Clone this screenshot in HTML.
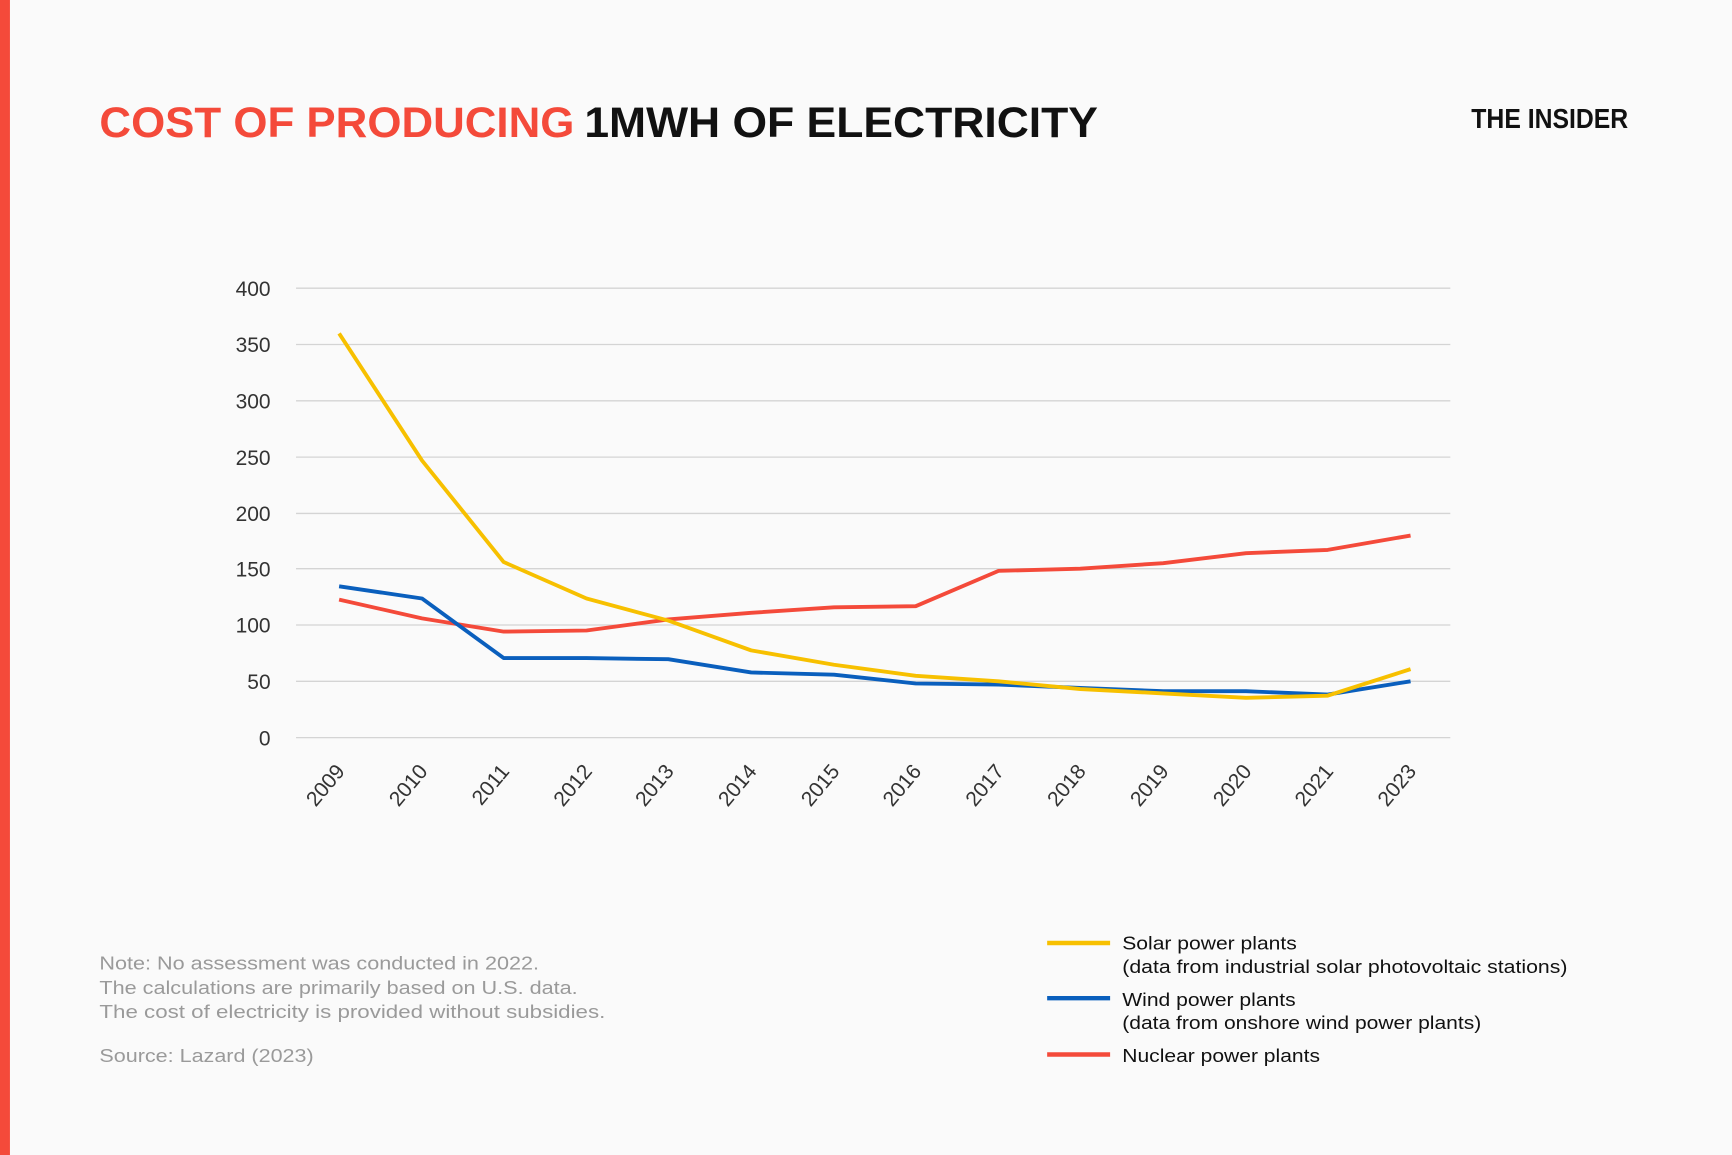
<!DOCTYPE html>
<html><head><meta charset="utf-8"><style>
html,body{margin:0;padding:0;background:#fafafa;}
svg{display:block;}
text{font-family:"Liberation Sans",sans-serif;}
</style></head><body>
<svg width="1732" height="1155" viewBox="0 0 1568 1046" preserveAspectRatio="none">
<rect width="1568" height="1046" fill="#fafafa"/>
<rect x="0" y="0" width="9" height="1046" fill="#f44a3a"/>
<text x="90" y="124" font-size="39" font-weight="bold" fill="#f44a3a" textLength="430" lengthAdjust="spacingAndGlyphs">COST OF PRODUCING</text>
<text x="529" y="124" font-size="39" font-weight="bold" fill="#111" textLength="465" lengthAdjust="spacingAndGlyphs">1MWH OF ELECTRICITY</text>
<text x="1332" y="116" font-size="25" font-weight="bold" fill="#111" textLength="142" lengthAdjust="spacingAndGlyphs">THE INSIDER</text>
<g stroke="#d4d4d4" stroke-width="1.2">
<line x1="268" x2="1313" y1="261" y2="261"/><line x1="268" x2="1313" y1="312" y2="312"/>
<line x1="268" x2="1313" y1="363" y2="363"/><line x1="268" x2="1313" y1="414" y2="414"/>
<line x1="268" x2="1313" y1="465" y2="465"/><line x1="268" x2="1313" y1="515" y2="515"/>
<line x1="268" x2="1313" y1="566" y2="566"/><line x1="268" x2="1313" y1="617" y2="617"/>
<line x1="268" x2="1313" y1="668" y2="668"/>
</g>
<g font-size="19" fill="#333" text-anchor="end">
<text x="245" y="268">400</text><text x="245" y="319">350</text><text x="245" y="370">300</text>
<text x="245" y="421">250</text><text x="245" y="472">200</text><text x="245" y="522">150</text>
<text x="245" y="573">100</text><text x="245" y="624">50</text><text x="245" y="675">0</text>
</g>
<g font-size="19" fill="#333" text-anchor="end">
<text transform="translate(313,699) rotate(-50)">2009</text>
<text transform="translate(388,699) rotate(-50)">2010</text>
<text transform="translate(462,699) rotate(-50)">2011</text>
<text transform="translate(537,699) rotate(-50)">2012</text>
<text transform="translate(611,699) rotate(-50)">2013</text>
<text transform="translate(686,699) rotate(-50)">2014</text>
<text transform="translate(761,699) rotate(-50)">2015</text>
<text transform="translate(835,699) rotate(-50)">2016</text>
<text transform="translate(910,699) rotate(-50)">2017</text>
<text transform="translate(984,699) rotate(-50)">2018</text>
<text transform="translate(1059,699) rotate(-50)">2019</text>
<text transform="translate(1134,699) rotate(-50)">2020</text>
<text transform="translate(1208,699) rotate(-50)">2021</text>
<text transform="translate(1283,699) rotate(-50)">2023</text>
</g>
<g fill="none" stroke-width="3.5" stroke-linejoin="round">
<polyline stroke="#f44a3a" points="307,543 382,560 456,572 531,571 605,561 680,555 755,550 829,549 904,517 978,515 1053,510 1128,501 1202,498 1277,485"/>
<polyline stroke="#0a5fbd" points="307,531 382,542 456,596 531,596 605,597 680,609 755,611 829,619 904,620 978,623 1053,626 1128,626 1202,629 1277,617"/>
<polyline stroke="#f7c000" points="307,302 382,417 456,509 531,542 605,562 680,589 755,602 829,612 904,617 978,624 1053,628 1128,632 1202,630 1277,606"/>
</g>
<g font-size="17" fill="#9a9a9a">
<text x="90" y="878" textLength="398" lengthAdjust="spacingAndGlyphs">Note: No assessment was conducted in 2022.</text>
<text x="90" y="900" textLength="433" lengthAdjust="spacingAndGlyphs">The calculations are primarily based on U.S. data.</text>
<text x="90" y="922" textLength="458" lengthAdjust="spacingAndGlyphs">The cost of electricity is provided without subsidies.</text>
<text x="90" y="962" textLength="194" lengthAdjust="spacingAndGlyphs">Source:  Lazard (2023)</text>
</g>
<g stroke-width="4">
<line x1="948" x2="1005" y1="854" y2="854" stroke="#f7c000"/>
<line x1="948" x2="1005" y1="904" y2="904" stroke="#0a5fbd"/>
<line x1="948" x2="1005" y1="955" y2="955" stroke="#f44a3a"/>
</g>
<g font-size="17" fill="#111">
<text x="1016" y="860" textLength="158" lengthAdjust="spacingAndGlyphs">Solar power plants</text>
<text x="1016" y="881" textLength="403" lengthAdjust="spacingAndGlyphs">(data from industrial solar photovoltaic stations)</text>
<text x="1016" y="911" textLength="157" lengthAdjust="spacingAndGlyphs">Wind power plants</text>
<text x="1016" y="932" textLength="325" lengthAdjust="spacingAndGlyphs">(data from onshore wind power plants)</text>
<text x="1016" y="962" textLength="179" lengthAdjust="spacingAndGlyphs">Nuclear power plants</text>
</g>
</svg>
</body></html>
